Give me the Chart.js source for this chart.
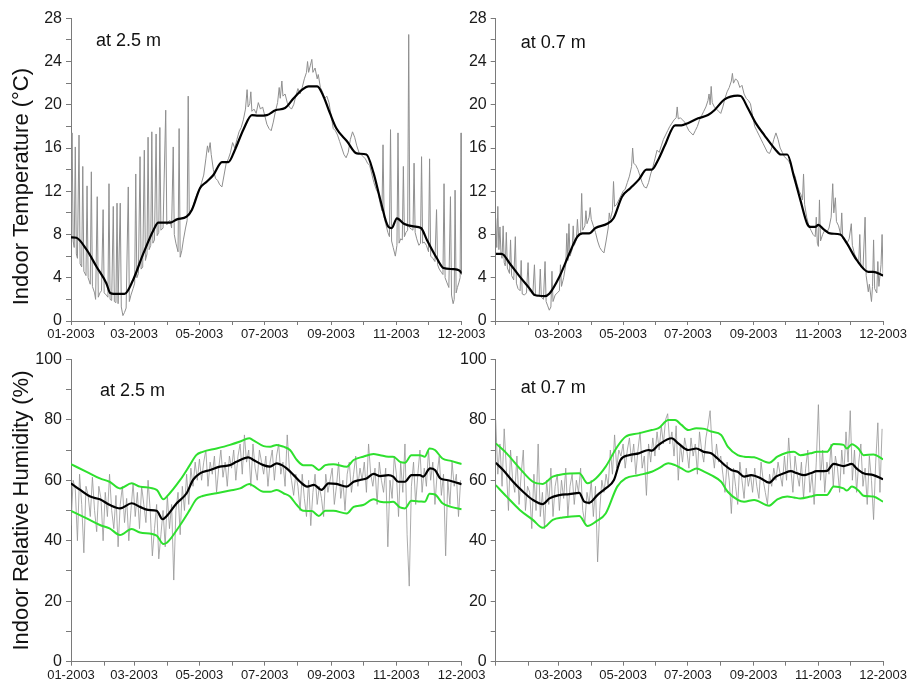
<!DOCTYPE html>
<html>
<head>
<meta charset="utf-8">
<script src="https://cdn.jsdelivr.net/npm/chart.js@4.4.1/dist/chart.umd.min.js"></script>
<style>
  body { margin: 0; background: #fff; }
  #wrap { position: relative; width: 909px; height: 686px; background: #fff; }
  #wrap canvas { position: absolute; left: 0; top: 0; }
</style>
</head>
<body>
<div id="wrap">
  <canvas id="tempHigh" width="909" height="686"></canvas>
  <canvas id="tempLow" width="909" height="686"></canvas>
  <canvas id="humHigh" width="909" height="686"></canvas>
  <canvas id="humLow" width="909" height="686"></canvas>
</div>
<script>
// axis ticks (day of year 2003)
const monthStarts = [0, 31, 59, 90, 120, 151, 181, 212, 243, 273, 304, 334, 365];
const xLabelDays = [0, 59, 120, 181, 243, 304, 365];
const xLabels = ['01-2003', '03-2003', '05-2003', '07-2003', '09-2003', '11-2003', '12-2003'];
const tempTicks = [0, 2, 4, 6, 8, 10, 12, 14, 16, 18, 20, 22, 24, 26, 28];
const tempLabels = [0, 4, 8, 12, 16, 20, 24, 28];
const humTicks = [0, 10, 20, 30, 40, 50, 60, 70, 80, 90, 100];
const humLabels = [0, 20, 40, 60, 80, 100];

// temperature at 2.5 m : [day, °C]
const temp25Raw = [[0,7.8],[1,17.4],[2,7.4],[3,6.8],[4,16.1],[5,6.2],[6,5.8],[7.5,17.2],[8.5,5.3],[10,5],[11,14.3],[12,4.6],[14,4.2],[15,12.5],[16,4],[18,3.4],[19,13.8],[20,3.2],[22,2.6],[23,2.0],[24.5,11.5],[25.5,2.2],[27,2.6],[28.5,2.8],[30,10.3],[31,2.6],[33,2.4],[34.5,2.2],[35.5,12.7],[36.5,2.0],[38,1.9],[39.5,10.6],[40.5,1.8],[42,1.7],[43,10.9],[44,1.6],[46,10.9],[47,1.3],[48.5,0.5],[50,0.8],[51.5,1.2],[53.5,12.4],[54.5,1.8],[56,2.4],[58,3.0],[59.5,3.5],[60.5,13.6],[61.5,4.0],[63,4.4],[64.5,15.2],[65.5,4.8],[67,5.0],[68.5,15.8],[69.5,5.6],[71,6.2],[72,17],[73,6.6],[74.5,7],[75.5,17.5],[76.5,7.2],[78,7.5],[79.5,17.3],[80.5,7.9],[82,8.2],[83,17.9],[84,8.4],[86,8.6],[88.5,19.5],[89.5,8.9],[91,9.2],[92.5,9.3],[94,8.6],[95.5,16.1],[96.5,8.0],[98,7.2],[100,6.4],[101,17.8],[102,5.9],[103.5,6.5],[105,7.5],[107,8.6],[108.5,9.3],[109.5,20.8],[110.5,9.8],[112,10.2],[114,10.6],[116,11.3],[118,11.8],[120,12.2],[122,12.8],[124,13.5],[126,15.0],[127.5,16.2],[128.5,15.6],[130,16.5],[131,15.4],[133,14.0],[135,13.2],[137,13.0],[139,12.6],[141,12.4],[143,13.5],[145,14.6],[147,15.0],[149,15.6],[151,16.5],[153,16.0],[155,16.8],[157,17.5],[159,17.9],[161,18.6],[163,19.6],[164.5,21.4],[165.5,19.8],[167,20.1],[168,21.2],[169,19.4],[171,19.6],[173,19.2],[175,20.2],[177,19.6],[179,19.8],[181,19.0],[183,18.2],[185,17.8],[187,17.6],[189,18.4],[191,19.4],[193,20.2],[194.5,21.6],[195.5,20.6],[197,22.2],[198,20.8],[200,21.0],[202,20.2],[204,19.8],[206,19.6],[208,20.0],[210,20.8],[212,21.5],[214,21.0],[216,21.6],[218,22.4],[220,23.0],[221,24.0],[222,23.0],[223.5,23.6],[225,24.2],[226,23.0],[228,23.4],[230,22.4],[231,22.8],[233,21.6],[235,21.2],[237,20.6],[239,20.8],[241,20.2],[243,19.0],[245,17.8],[247,17.6],[249,17.2],[251,16.6],[253,16.0],[255,15.4],[257,15.1],[259,15.6],[261,16.8],[263,17.5],[265,17.0],[267,16.2],[269,15.6],[271,15.4],[273,15.2],[275,15.0],[277,14.6],[279,14.4],[281,13.6],[283,12.8],[285,12.2],[287,11.8],[289,10.8],[290.5,10.2],[291.5,16.3],[292.5,9.6],[294,9.0],[296,8.2],[297.5,7.8],[298.5,17.7],[299.5,7.4],[301,6.8],[303,6.0],[304.5,7.0],[305.5,17.4],[306.5,7.2],[308,7.6],[309.5,7.5],[310.5,14.3],[311.5,7.8],[313,8.2],[314.5,8.4],[315.5,26.5],[316.5,8.6],[318,8.5],[319.5,8.4],[320.5,14.6],[321.5,8.2],[323,7.6],[325,7.0],[326.5,7.2],[327.5,15.2],[328.5,7.2],[330,7.3],[332,7.0],[334,6.4],[335,15.0],[336,6.0],[338,5.8],[340,5.5],[341.5,10.3],[342.5,5.2],[344,4.8],[346,4.5],[347.5,4.3],[348.5,12.7],[349.5,4.0],[351,3.6],[353,3.1],[354.5,11.5],[355.5,2.4],[357,1.6],[358,2.0],[358.8,12.1],[359.8,2.6],[361,3.1],[362.5,3.6],[363.5,4.0],[364.4,17.4],[365,4.3]];
const temp25Smooth = [[0,7.74],[5,7.7],[14.7,6.57],[24,5.0],[33,3.5],[36.5,2.6],[40,2.5],[50,2.5],[58,3.8],[67.6,6.25],[77,8.4],[81.6,9.1],[92.5,9.1],[99,9.4],[108,9.65],[113,10.3],[120.6,12.3],[127,12.9],[133,13.5],[141,14.7],[147,14.7],[153,15.8],[161,17.7],[169,19.05],[175,19.0],[183,19.05],[191,19.5],[200,19.7],[208,20.6],[216,21.4],[222,21.7],[230,21.7],[236,20.75],[242,19.2],[248,17.8],[258,16.6],[267,15.5],[276,15.4],[282.6,13.7],[289,11.2],[296.6,8.7],[299.6,8.6],[304.5,9.5],[311,9.0],[320,8.75],[327,8.6],[332.5,7.5],[341.8,5.8],[348,4.9],[357,4.8],[363,4.65],[365,4.4]];

// temperature at 0.7 m : [day, °C]
const temp07Raw = [[0,9.5],[1,6.8],[2,10.6],[3,6.6],[4,8.7],[5,6.2],[6,5.8],[7,8.8],[8,5.4],[9,5.1],[10,8.2],[11,4.9],[13,4.4],[14,7.5],[15,4.2],[17,3.8],[18.5,7.8],[19.5,3.5],[21,3.0],[23,2.8],[24,5.6],[25,2.5],[27,2.4],[29,2.6],[30.5,5.4],[31.5,2.8],[33,2.7],[35,2.5],[36.5,5.2],[37.5,2.4],[39,2.3],[41,2.4],[42,4.8],[43,2.2],[45,2.0],[46.5,5.5],[47.5,1.8],[49,1.4],[50.5,1.0],[52,1.3],[53,4.6],[54,1.8],[56,2.4],[58,2.6],[60,2.8],[61,5.2],[62,3.2],[64,4.0],[66,5.2],[67,8.1],[68,5.6],[69,9.0],[70,6.0],[72,6.6],[73,8.8],[74,7.0],[76,7.5],[77,9.4],[78,7.8],[80,8.2],[81,11.8],[82,8.4],[84,8.8],[85,10.2],[86,9.0],[88,9.6],[89,10.5],[90,9.4],[92,8.8],[94,8.2],[96,7.4],[98,6.8],[100,6.5],[102,6.3],[104,7.4],[106,8.6],[107,10.0],[108,9.4],[110,10.2],[111,12.9],[112,10.6],[114,10.8],[116,11.2],[118,11.6],[120,12.0],[122,12.2],[124,12.8],[126,13.4],[128,14.3],[129,16.0],[130,14.6],[132,14.4],[134,14.0],[136,13.4],[138,12.8],[140,12.4],[142,12.3],[144,12.8],[146,13.6],[148,14.2],[150,15.0],[152,15.8],[154,15.6],[156,16.2],[158,16.8],[160,17.2],[162,17.6],[164,18.0],[166,18.3],[168,18.6],[170,18.8],[171,19.8],[172,18.7],[174,18.8],[176,18.6],[178,18.4],[180,18.0],[182,17.6],[184,17.4],[186,17.2],[188,17.6],[190,18.0],[192,18.6],[194,19.0],[196,19.4],[198,19.8],[200,20.4],[201,21.0],[202,20.0],[203,21.7],[204,20.2],[206,19.8],[208,19.6],[210,19.4],[212,19.2],[214,19.8],[216,20.6],[218,21.2],[220,21.6],[222,22.2],[223,22.9],[224,22.0],[226,22.4],[228,22.2],[230,21.6],[232,21.8],[234,21.0],[236,20.6],[238,20.4],[240,20.1],[242,19.0],[244,18.0],[246,17.6],[248,17.2],[250,16.8],[252,16.4],[254,16.0],[256,15.6],[258,15.5],[260,16.0],[262,16.8],[264,17.4],[266,16.8],[268,16.0],[270,15.6],[272,15.2],[274,15.0],[276,14.8],[278,14.4],[280,13.8],[282,13.4],[284,12.6],[286,12.0],[288,11.6],[289,11.2],[290,13.6],[291,10.8],[293,9.6],[295,8.8],[297,8.4],[299,8.0],[301,7.8],[302,9.6],[303,7.2],[304,6.9],[305,11.2],[306,7.4],[308,8.0],[310,8.4],[312,8.2],[314,8.6],[316,9.6],[317.5,12.7],[318.5,10.0],[320,11.4],[321,9.2],[323,8.8],[325,8.0],[326,10.0],[327,7.6],[329,7.4],[331,7.2],[333,7.6],[335,9.0],[336,7.0],[338,6.2],[340,5.8],[342,5.4],[343,8.0],[344,5.0],[346,4.8],[348,9.6],[349,4.2],[351,2.7],[352,3.4],[354,1.8],[355,3.2],[356,7.5],[357,3.0],[359,2.6],[360,5.5],[361,3.2],[363,5.2],[364,8.0],[365,4.1]];
const temp07Smooth = [[0,6.2],[5.6,6.2],[13.4,5.3],[22.7,4.1],[32,3.0],[36.7,2.4],[46,2.3],[50.7,2.55],[60,4.1],[69.4,6.25],[77,7.8],[81.8,8.1],[88,8.1],[94,8.6],[105,9.0],[111,9.5],[119,11.5],[127,12.3],[135,13.1],[142,14.0],[147,14.0],[153,14.9],[159.6,16.3],[169,18.1],[175,18.1],[181,18.3],[190.7,18.75],[200,19.05],[206,19.5],[215.6,20.5],[228,20.85],[231,20.8],[237,19.8],[245,18.3],[253,17.2],[264,15.8],[268.5,15.4],[274.7,15.4],[281,13.35],[287,11.2],[293.4,9.0],[296.6,8.7],[301,8.7],[304,8.9],[308.7,8.5],[315,8.1],[324.5,8.0],[330.7,7.2],[340,5.65],[351,4.55],[355.6,4.55],[365,4.2]];

// relative humidity, raw readings every 2 days from 1 Jan
const humStep = 2;
const hum25Raw = [45,60,57,40,62,52,36,58,55,48,61,50,43,58,54,40,
  56,48,62,50,44,55,38,52,58,46,54,40,50,59,
  48,56,44,58,52,46,60,50,35,44,52,34,42,50,38,55,
  44,52,27,50,56,42,58,50,62,52,64,58,66,60,67,
  60,66,70,58,66,62,68,56,64,70,61,66,58,68,64,
  70,60,68,72,62,75,66,70,58,72,64,60,70,66,62,
  68,58,66,70,60,68,72,62,66,58,75,64,60,55,62,
  58,50,62,54,48,60,45,56,62,52,58,54,48,62,56,60,
  64,52,58,66,54,60,50,62,66,56,62,68,58,64,60,
  66,56,72,62,58,64,52,66,60,56,64,38,60,54,68,
  62,48,66,56,72,42,25,58,66,52,62,70,56,64,58,
  70,60,66,52,62,68,55,62,35,60,52,66,58,62,48,60];
const hum07Raw = [80,62,72,58,77,64,50,70,60,56,68,52,62,70,50,58,
  56,44,62,50,72,48,56,44,60,52,64,48,58,62,
  50,60,54,64,48,58,62,52,60,56,64,50,46,56,52,60,
  48,58,33,50,60,56,62,58,70,62,75,64,70,68,
  72,64,70,74,66,72,62,70,76,64,68,55,72,66,74,68,
  76,70,78,72,80,82,72,76,68,78,60,72,66,74,70,
  64,74,68,72,62,76,70,66,74,78,83,70,64,72,66,
  68,62,56,66,60,49,64,58,52,66,60,54,64,58,62,56,
  64,58,54,66,60,56,52,62,58,64,60,66,62,58,68,
  60,74,64,56,68,62,58,66,54,64,70,56,62,52,66,
  85,60,70,56,66,62,72,58,68,64,56,70,62,76,66,
  83,60,70,56,66,72,58,64,52,68,60,47,66,79,56,77];

// smoothed humidity and its band : [day, %]
const hum25Smooth = [[0,59.0],[8.6,56.8],[18,54.6],[27,53.7],[36.4,51.8],[45.8,50.7],[56.7,52.4],[64.5,51.2],[72,50.2],[80,49.9],[85.6,47.1],[89.5,48.2],[98.7,52.4],[108,55.7],[114,60.1],[120.5,62.3],[130,63.4],[139,64.5],[148.5,65.0],[154.6,66.1],[165.7,67.6],[170,66.8],[179.7,65.0],[186,64.5],[192.3,65.6],[197,65.0],[201.5,63.9],[208,61.7],[214,59.5],[220.6,57.9],[227,58.5],[234,56.8],[240.5,59.0],[248,58.8],[257.6,57.9],[264,59.5],[270,60.1],[276,60.6],[282.6,62.1],[288.8,61.4],[296.5,61.7],[301,61.2],[305.8,59.5],[312,59.5],[318,61.7],[326,61.7],[329,61.2],[335.4,63.9],[340,63.4],[345,60.6],[351,60.1],[357.6,59.5],[365,58.7]];
const hum25Upper = [[0,65.3],[14.6,62.8],[27,60.6],[36,59.5],[45.8,57.3],[56.7,59.0],[64.5,57.9],[80,56.8],[86.3,53.7],[89.5,54.6],[102,60.1],[111,65.0],[117,68.3],[123,69.4],[136,70.5],[148.5,71.7],[158,72.8],[166.5,73.9],[170,73.3],[180,71.3],[186,71.1],[192.3,71.7],[198.5,71.1],[204.6,70.0],[211,66.7],[217,65.0],[225,65.0],[231.5,63.4],[237.6,65.0],[245,65.3],[257.6,64.5],[264,66.7],[273,67.8],[282.6,68.7],[288.8,68.3],[296.5,67.8],[301,67.8],[307.4,66.1],[312,65.8],[318,68.3],[326,68.3],[330.5,67.8],[335,70.5],[340,70.0],[347,67.2],[355,66.4],[365,65.4]];
const hum25Lower = [[0,49.9],[14.6,47.4],[27,45.2],[36,44.1],[45.8,41.9],[56.7,43.9],[64.5,42.7],[80,41.7],[86.3,38.9],[89.5,39.3],[102,45.2],[111,50.2],[117,53.7],[123,54.8],[136,55.7],[148.5,56.6],[158,57.3],[166.5,58.8],[170,58.2],[180,56.2],[186,56.2],[192.3,56.8],[198.5,55.7],[204.6,54.6],[211,51.8],[217,49.9],[225,49.8],[231.5,48.2],[237.6,49.9],[245,49.9],[257.6,49.0],[264,51.2],[273,51.8],[282.6,53.7],[288.8,52.9],[296.5,52.7],[301,52.9],[307.4,51.0],[312,50.7],[318,53.2],[326,53.0],[330.5,52.9],[335,55.5],[340,55.3],[347,52.4],[355,51.2],[365,50.4]];

const hum07Smooth = [[0,65.8],[7,63.4],[16.4,59.5],[25.8,56.2],[35,53.5],[44.4,52.1],[50.7,54.0],[60,55.1],[69.4,55.4],[78.7,55.8],[83.4,52.9],[88,52.5],[95.8,55.1],[103.6,57.3],[111.4,60.1],[117.6,66.7],[125.4,68.3],[134.7,68.9],[144,70.0],[147,69.8],[153.4,71.7],[165.8,73.9],[172,72.2],[181.4,70.0],[189,70.5],[196,69.4],[203,68.9],[209,67.2],[215.7,65.0],[222,63.4],[228,62.8],[234,61.2],[240.7,61.7],[250,60.6],[257.6,59.2],[264,61.2],[271.6,62.3],[278,63.0],[284,62.3],[290.4,61.7],[296.5,62.3],[302.5,63.0],[312,63.1],[318.4,65.4],[327.7,64.7],[335.5,65.4],[340,63.9],[346.5,62.3],[355.8,61.7],[365,60.3]];
const hum07BandDays = [0,10.3,22.7,35,44.4,53.7,63,78.7,86.5,94.3,103.6,114.5,122.3,134.7,147,153.4,162.7,169,175,181.4,189,196.8,203,212.4,218.6,228,234,243.5,257.6,265.3,274.7,281,287,296.5,302.7,312,318.4,327.7,330.8,335.5,341.7,346.5,355.8,365];
const hum07Upper = [72.2,68.9,63.9,59.5,58.8,61.2,62.0,62.3,59.0,60.6,64.5,71.1,74.4,75.5,76.6,77.2,79.9,79.9,78.3,76.6,77.2,77.0,76.1,75.0,71.1,68.3,67.8,67.6,65.8,67.8,69.2,69.4,68.3,68.9,69.4,69.4,72.0,71.7,70.5,71.9,70.5,68.3,68.5,66.9];
const hum07Lower = [58.4,54.6,50.2,46.9,44.3,46.9,47.7,48.2,44.9,46.3,49.0,57.9,60.6,61.7,62.8,63.9,65.6,65.0,63.9,62.8,63.9,62.8,61.7,59.5,56.2,53.5,52.9,53.5,51.6,53.7,54.6,54.3,54.0,54.6,55.1,55.1,57.9,57.3,56.6,57.9,56.6,54.9,54.6,52.9];

const FONT = '"Liberation Sans", Arial, sans-serif';
const GREEN = '#2ee02e';

function pares(lista) {
    return lista.map(p => ({ x: p[0], y: p[1] }));
}
function porPasso(valores, passo) {
    return valores.map((v, i) => ({ x: i * passo, y: v }));
}
function comDias(dias, valores) {
    return valores.map((v, i) => ({ x: dias[i], y: v }));
}

// texts drawn inside each panel ("at 2.5 m") and the left-hand axis titles
const textosPainel = {
    id: 'textosPainel',
    afterDraw(chart, args, opts) {
        const { ctx, chartArea } = chart;
        ctx.save();
        ctx.fillStyle = '#111';
        ctx.textBaseline = 'middle';
        ctx.font = '18px ' + FONT;
        ctx.fillText(opts.label, chartArea.left + opts.dx, chartArea.top + opts.dy);
        if (opts.yTitle) {
            ctx.translate(chartArea.left - 49, (chartArea.top + chartArea.bottom) / 2 + opts.titleShift);
            ctx.rotate(-Math.PI / 2);
            ctx.textAlign = 'center';
            ctx.font = '22px ' + FONT;
            ctx.fillText(opts.yTitle, 0, 0);
        }
        ctx.restore();
    }
};

function linha(data, cor, largura, suave) {
    return {
        data: data,
        borderColor: cor,
        borderWidth: largura,
        pointRadius: 0,
        fill: false,
        tension: 0,
        cubicInterpolationMode: suave ? 'monotone' : 'default'
    };
}

function criarPainel(id, cfg) {
    const axisColor = '#7a7a7a';
    new Chart(document.getElementById(id), {
        type: 'line',
        data: { datasets: cfg.datasets },
        plugins: [textosPainel],
        options: {
            responsive: false,
            animation: false,
            events: [],
            layout: { padding: cfg.padding },
            plugins: {
                legend: { display: false },
                tooltip: { enabled: false },
                textosPainel: cfg.texto
            },
            scales: {
                x: {
                    type: 'linear',
                    min: 0,
                    max: 365,
                    afterBuildTicks: s => { s.ticks = monthStarts.map(v => ({ value: v })); },
                    afterFit: s => { s.height = 20; },
                    ticks: {
                        autoSkip: false,
                        maxRotation: 0,
                        padding: 2,
                        color: '#1a1a1a',
                        font: { family: FONT, size: 13 },
                        callback: v => {
                            const i = xLabelDays.indexOf(v);
                            if (i < 0 || (v === 0 && !cfg.firstLabel)) return '';
                            return xLabels[i];
                        }
                    },
                    grid: { drawOnChartArea: false, tickLength: 4, color: axisColor },
                    border: { color: axisColor }
                },
                y: {
                    type: 'linear',
                    min: 0,
                    max: cfg.yMax,
                    afterBuildTicks: s => { s.ticks = cfg.yTicks.map(v => ({ value: v })); },
                    afterFit: s => { s.width = 40; },
                    ticks: {
                        autoSkip: false,
                        padding: 4,
                        color: '#1a1a1a',
                        font: { family: FONT, size: 16 },
                        callback: v => cfg.yLabels.includes(v) ? String(v) : ''
                    },
                    grid: { drawOnChartArea: false, tickLength: 5, color: axisColor },
                    border: { color: axisColor }
                }
            }
        }
    });
}

const topo = { top: 18.3, bottom: 345 };
const base = { top: 359.3, bottom: 4.3 };
const esquerda = { left: 31, right: 447.3 };
const direita = { left: 455.7, right: 22.3 };

criarPainel('tempHigh', {
    padding: Object.assign({}, esquerda, topo),
    yMax: 28, yTicks: tempTicks, yLabels: tempLabels, firstLabel: true,
    texto: { label: 'at 2.5 m', dx: 25, dy: 23, yTitle: 'Indoor Temperature (°C)', titleShift: 17 },
    datasets: [
        linha(pares(temp25Smooth), '#000', 2.2, true),
        linha(pares(temp25Raw), '#8f8f8f', 1, false)
    ]
});

criarPainel('tempLow', {
    padding: Object.assign({}, direita, topo),
    yMax: 28, yTicks: tempTicks, yLabels: tempLabels, firstLabel: false,
    texto: { label: 'at 0.7 m', dx: 25, dy: 25 },
    datasets: [
        linha(pares(temp07Smooth), '#000', 2.2, true),
        linha(pares(temp07Raw), '#8f8f8f', 1, false)
    ]
});

criarPainel('humHigh', {
    padding: Object.assign({}, esquerda, base),
    yMax: 100, yTicks: humTicks, yLabels: humLabels, firstLabel: true,
    texto: { label: 'at 2.5 m', dx: 29, dy: 32, yTitle: 'Indoor Relative Humidity (%)', titleShift: 0 },
    datasets: [
        linha(pares(hum25Smooth), '#000', 2.2, true),
        linha(pares(hum25Upper), GREEN, 2, true),
        linha(pares(hum25Lower), GREEN, 2, true),
        linha(porPasso(hum25Raw, humStep), '#959595', 0.8, false)
    ]
});

criarPainel('humLow', {
    padding: Object.assign({}, direita, base),
    yMax: 100, yTicks: humTicks, yLabels: humLabels, firstLabel: false,
    texto: { label: 'at 0.7 m', dx: 25, dy: 29 },
    datasets: [
        linha(pares(hum07Smooth), '#000', 2.2, true),
        linha(comDias(hum07BandDays, hum07Upper), GREEN, 2, true),
        linha(comDias(hum07BandDays, hum07Lower), GREEN, 2, true),
        linha(porPasso(hum07Raw, humStep), '#959595', 0.8, false)
    ]
});
</script>
</body>
</html>
